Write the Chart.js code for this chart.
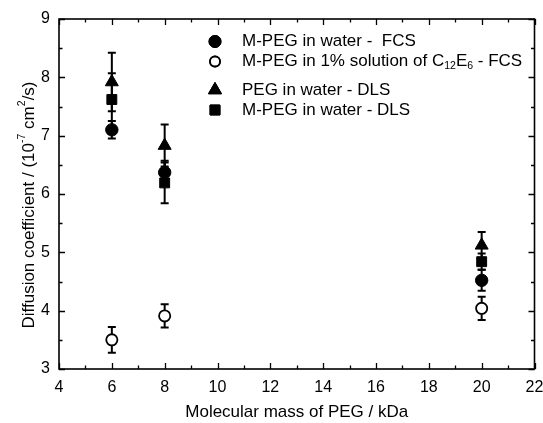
<!DOCTYPE html>
<html><head><meta charset="utf-8">
<script src="https://cdn.jsdelivr.net/npm/chart.js@4"></script>
<style>html,body{margin:0;padding:0;background:#fff}#c{display:block}</style>
</head><body>
<canvas id="c" width="543" height="423"></canvas>
<script>
const massX = [6, 8, 20];
const fcsWater = [7.10, 6.37, 4.52];
const fcsWaterErr = [0.15, 0.20, 0.18];
const fcsSurf = [3.50, 3.91, 4.04];
const fcsSurfErr = [0.22, 0.20, 0.20];
const dlsPeg = [7.92, 6.83, 5.12];
const dlsPegErr = [0.50, 0.36, 0.23];
const dlsMpeg = [7.62, 6.19, 4.84];
const dlsMpegErr = [0.45, 0.35, 0.14];
const xTicks = [4, 6, 8, 10, 12, 14, 16, 18, 20, 22];
const yTicks = [3, 4, 5, 6, 7, 8, 9];

const FONT = 'Liberation Sans, Arial, sans-serif';
function pts(xs, ys){ return xs.map((x,i)=>({x, y: ys[i]})); }

const datasets = [
  {label:'M-PEG in water -  FCS', data: pts(massX, fcsWater), err: fcsWaterErr, pointStyle:'circle', pointRadius:6.2, backgroundColor:'#000', borderColor:'#000', borderWidth:1},
  {label:'M-PEG in 1% solution of C12E6 - FCS', data: pts(massX, fcsSurf), err: fcsSurfErr, pointStyle:'circle', pointRadius:5.6, backgroundColor:'#fff', borderColor:'#000', borderWidth:1.8},
  {label:'PEG in water - DLS', data: pts(massX, dlsPeg), err: dlsPegErr, pointStyle:'triangle', pointRadius:7.5, backgroundColor:'#000', borderColor:'#000', borderWidth:1},
  {label:'M-PEG in water - DLS', data: pts(massX, dlsMpeg), err: dlsMpegErr, pointStyle:'rect', pointRadius:7, backgroundColor:'#000', borderColor:'#000', borderWidth:1}
];

const errPlugin = {
  id:'err',
  beforeDatasetsDraw(chart){
    const ctx = chart.ctx, xs = chart.scales.x, ys = chart.scales.y;
    ctx.save(); ctx.strokeStyle='#000'; ctx.lineWidth=2;
    chart.data.datasets.forEach(ds=>{
      ds.data.forEach((p,i)=>{
        const e = ds.err[i];
        const px = xs.getPixelForValue(p.x);
        const top = ys.getPixelForValue(p.y+e), bot = ys.getPixelForValue(p.y-e);
        ctx.beginPath();
        ctx.moveTo(px, top); ctx.lineTo(px, bot);
        ctx.moveTo(px-4, top); ctx.lineTo(px+4, top);
        ctx.moveTo(px-4, bot); ctx.lineTo(px+4, bot);
        ctx.stroke();
      });
    });
    ctx.restore();
  }
};

function drawRich(ctx, parts, x, y, size){
  let cx = x;
  parts.forEach(([t,m])=>{
    const s = m===0 ? size : size*0.62;
    ctx.font = s+'px '+FONT;
    const dy = m===1 ? -size*0.38 : (m===-1 ? size*0.28 : 0);
    ctx.fillText(t, cx, y+dy);
    cx += ctx.measureText(t).width;
  });
  return cx-x;
}
function richWidth(ctx, parts, size){
  let w=0;
  parts.forEach(([t,m])=>{ ctx.font=(m===0?size:size*0.62)+'px '+FONT; w+=ctx.measureText(t).width; });
  return w;
}

const framePlugin = {
  id:'frame',
  afterDraw(chart){
    const ctx = chart.ctx, a = chart.chartArea, xs = chart.scales.x, ys = chart.scales.y;
    ctx.save();
    ctx.strokeStyle='#000'; ctx.lineWidth=1.6;
    ctx.strokeRect(a.left, a.top, a.right-a.left, a.bottom-a.top);
    ctx.lineWidth=1.3;
    ctx.beginPath();
    for(let v=4; v<=22; v+=1){
      const px = Math.round(xs.getPixelForValue(v))+0.5;
      const L = (v%2===0)?6:3.5;
      ctx.moveTo(px, a.bottom); ctx.lineTo(px, a.bottom-L);
      ctx.moveTo(px, a.top); ctx.lineTo(px, a.top+L);
    }
    for(let v=3; v<=9.001; v+=0.5){
      const py = Math.round(ys.getPixelForValue(v))+0.5;
      const L = (Math.abs(v-Math.round(v))<1e-6)?6:3.5;
      ctx.moveTo(a.left, py); ctx.lineTo(a.left+L, py);
      ctx.moveTo(a.right, py); ctx.lineTo(a.right-L, py);
    }
    ctx.stroke();

    // y title
    ctx.fillStyle='#000'; ctx.textBaseline='middle'; ctx.textAlign='left';
    const yParts = [['Diffusion coefficient / (10',0],['-7',1],[' cm',0],['2',1],['/s)',0]];
    const size = 17;
    const w = richWidth(ctx, yParts, size);
    ctx.save();
    ctx.translate(29, 205);
    ctx.rotate(-Math.PI/2);
    drawRich(ctx, yParts, -w/2, 0, size);
    ctx.restore();

    // legend
    const lx = 215, tx = 242;
    const rows = [41.5, 61.5, 90, 110];
    const items = [
      [['M-PEG in water -  FCS',0]],
      [['M-PEG in 1% solution of C',0],['12',-1],['E',0],['6',-1],[' - FCS',0]],
      [['PEG in water - DLS',0]],
      [['M-PEG in water - DLS',0]]
    ];
    chart.data.datasets.forEach((ds,i)=>{
      const y = rows[i];
      ctx.fillStyle = ds.backgroundColor; ctx.strokeStyle = ds.borderColor; ctx.lineWidth = ds.borderWidth;
      Chart.helpers.drawPoint(ctx, {pointStyle: ds.pointStyle, radius: ds.pointStyle==='circle'?(i===1?5:6):ds.pointRadius, rotation:0, borderWidth: ds.borderWidth}, lx, y);
      ctx.fill(); ctx.stroke();
      ctx.fillStyle='#000';
      drawRich(ctx, items[i], tx, y, 17);
    });
    ctx.restore();
  }
};

new Chart(document.getElementById('c'), {
  type:'scatter',
  data:{datasets},
  options:{
    responsive:false, animation:false,
    layout:{padding:{left:0, right:8, top:19, bottom:0}},
    plugins:{legend:{display:false}, tooltip:{enabled:false}},
    scales:{
      x:{type:'linear', min:4, max:22,
        afterBuildTicks(s){ s.ticks = xTicks.map(v=>({value:v})); },
        afterFit(s){ s.height = 54; s.paddingLeft = 0; s.paddingRight = 0; },
        grid:{display:false, drawTicks:false},
        border:{display:false},
        ticks:{color:'#000', font:{family:FONT, size:16}, padding:9, maxRotation:0},
        title:{display:true, text:'Molecular mass of PEG / kDa', color:'#000', font:{family:FONT, size:17}, padding:{top:4, bottom:0}}
      },
      y:{type:'linear', min:3, max:9,
        afterBuildTicks(s){ s.ticks = yTicks.map(v=>({value:v})); },
        afterFit(s){ s.width = 59; s.paddingTop = 0; s.paddingBottom = 0; },
        grid:{display:false, drawTicks:false},
        border:{display:false},
        ticks:{color:'#000', font:{family:FONT, size:16}, padding:9}
      }
    }
  },
  plugins:[errPlugin, framePlugin]
});
</script>
</body></html>
